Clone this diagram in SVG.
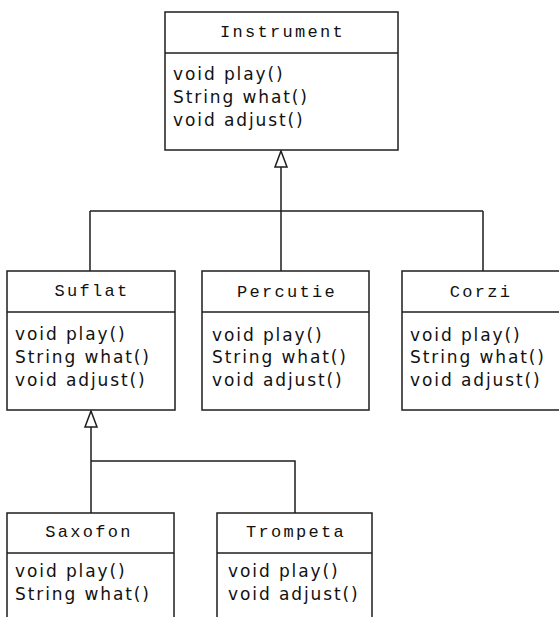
<svg xmlns="http://www.w3.org/2000/svg" width="559" height="617" viewBox="0 0 559 617">
  <style>
    .box { fill: #ffffff; stroke: #1e1e1e; stroke-width: 1.5; }
    .sep { stroke: #1e1e1e; stroke-width: 1.5; }
    .title { font-family: "Liberation Mono", "Courier New", monospace; font-size: 17px; letter-spacing: 2.3px; text-anchor: middle; fill: #111; }
    .op { font-family: "DejaVu Sans", Verdana, sans-serif; font-size: 17px; letter-spacing: 1.9px; fill: #111; }
    .wire { fill: none; stroke: #1e1e1e; stroke-width: 1.5; }
    .head { fill: #ffffff; stroke: #1e1e1e; stroke-width: 1.5; stroke-linejoin: miter; }
  </style>
  <defs>
    <!-- hollow generalization arrowhead, tip at origin pointing up -->
    <polygon id="gen" class="head" points="0,0 6,16 -6,16"/>
  </defs>

  <rect width="559" height="617" fill="#ffffff"/>

  <!-- inheritance connectors -->
  <g id="connectors">
    <path class="wire" d="M281,167 V211 M90,211 H483 M90,211 V271 M281,211 V271 M483,211 V271"/>
    <use href="#gen" x="281" y="151"/>
    <path class="wire" d="M91,427 V513 M91,461 H295 V513"/>
    <use href="#gen" x="91" y="411"/>
  </g>

  <g id="instrument">
    <rect class="box" x="165" y="12" width="233" height="138"/>
    <line class="sep" x1="165" y1="53" x2="398" y2="53"/>
    <text class="title" x="282.5" y="37">Instrument</text>
    <text class="op" x="173" y="80">void play()</text>
    <text class="op" x="173" y="103">String what()</text>
    <text class="op" x="173" y="126">void adjust()</text>
  </g>

  <g id="suflat">
    <rect class="box" x="7" y="271" width="168" height="139"/>
    <line class="sep" x1="7" y1="312" x2="175" y2="312"/>
    <text class="title" x="92" y="296">Suflat</text>
    <text class="op" x="15" y="340">void play()</text>
    <text class="op" x="15" y="363">String what()</text>
    <text class="op" x="15" y="386">void adjust()</text>
  </g>

  <g id="percutie">
    <rect class="box" x="202" y="271" width="167" height="139"/>
    <line class="sep" x1="202" y1="312" x2="369" y2="312"/>
    <text class="title" x="287" y="297">Percutie</text>
    <text class="op" x="212" y="341">void play()</text>
    <text class="op" x="212" y="363">String what()</text>
    <text class="op" x="212" y="386">void adjust()</text>
  </g>

  <g id="corzi">
    <rect class="box" x="402" y="271" width="170" height="139"/>
    <line class="sep" x1="402" y1="312" x2="572" y2="312"/>
    <text class="title" x="481" y="297">Corzi</text>
    <text class="op" x="410" y="341">void play()</text>
    <text class="op" x="410" y="363">String what()</text>
    <text class="op" x="410" y="386">void adjust()</text>
  </g>

  <g id="saxofon">
    <rect class="box" x="7" y="513" width="167" height="120"/>
    <line class="sep" x1="7" y1="553" x2="174" y2="553"/>
    <text class="title" x="89" y="537">Saxofon</text>
    <text class="op" x="15" y="577">void play()</text>
    <text class="op" x="15" y="600">String what()</text>
  </g>

  <g id="trompeta">
    <rect class="box" x="217" y="513" width="155" height="120"/>
    <line class="sep" x1="217" y1="553" x2="372" y2="553"/>
    <text class="title" x="296" y="537">Trompeta</text>
    <text class="op" x="228" y="577">void play()</text>
    <text class="op" x="228" y="600">void adjust()</text>
  </g>
</svg>
